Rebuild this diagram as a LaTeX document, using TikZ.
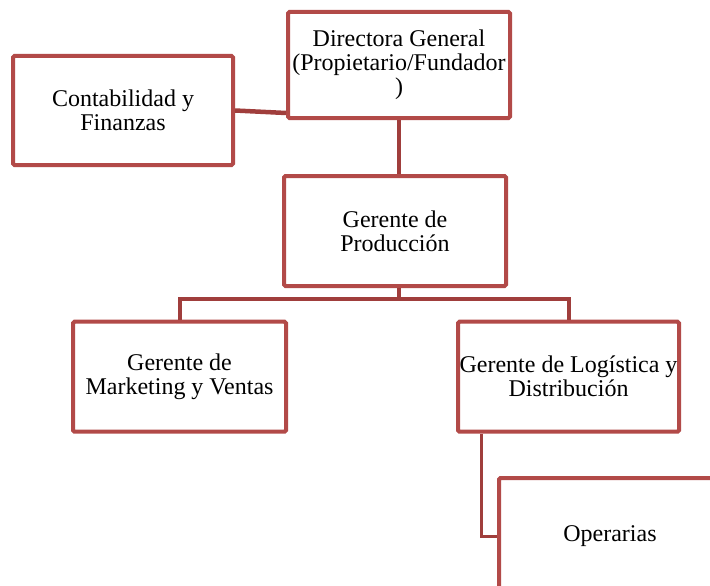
\documentclass[tikz,border=0pt]{standalone}
\usepackage{fontspec}
\setmainfont{Liberation Serif}
\definecolor{boxred}{RGB}{178,74,72}
\definecolor{connred}{RGB}{160,62,60}
\begin{document}
\begin{tikzpicture}[x=1pt,y=-1pt,
  orgbox/.style={draw=boxred, fill=white, line width=4pt, rounded corners=1.5pt,
    align=center, inner sep=0pt, font=\fontsize{24}{24}\selectfont, text=black},
  conn/.style={draw=connred, line width=4pt}]
\useasboundingbox (0,0) rectangle (710,586);
\clip (0,0) rectangle (710,586);
\node[orgbox, minimum width=222pt, minimum height=106pt] (dir) at (399,65) {Directora General\\(Propietario/Fundador\\)};
\node[orgbox, minimum width=220pt, minimum height=109pt] (cont) at (123,110.5) {Contabilidad y\\Finanzas};
\node[orgbox, minimum width=222pt, minimum height=110pt] (prod) at (395,231) {Gerente de\\Producción};
\node[orgbox, minimum width=213pt, minimum height=110pt] (mkt) at (179.5,376.7) {Gerente de\\Marketing y Ventas};
\node[orgbox, minimum width=221pt, minimum height=110pt] (log) at (568.5,376.7) {Gerente de Logística y\\Distribución};
\node[orgbox, minimum width=222pt, minimum height=116pt] (ops) at (610,536) {Operarias};
\coordinate (bus) at (399,299);
\draw[conn] (dir.south) -- (dir.south |- prod.north);
\draw[conn] (prod.south -| bus) -- (bus);
\draw[conn] (mkt.north) |- (bus) -| (log.north);
\draw[conn, line width=3pt] ([xshift=-87.5pt]log.south) |- (ops.west);
\draw[conn, line width=4.5pt] (cont.east) -- ([yshift=-48pt]dir.west);
\end{tikzpicture}
\end{document}
